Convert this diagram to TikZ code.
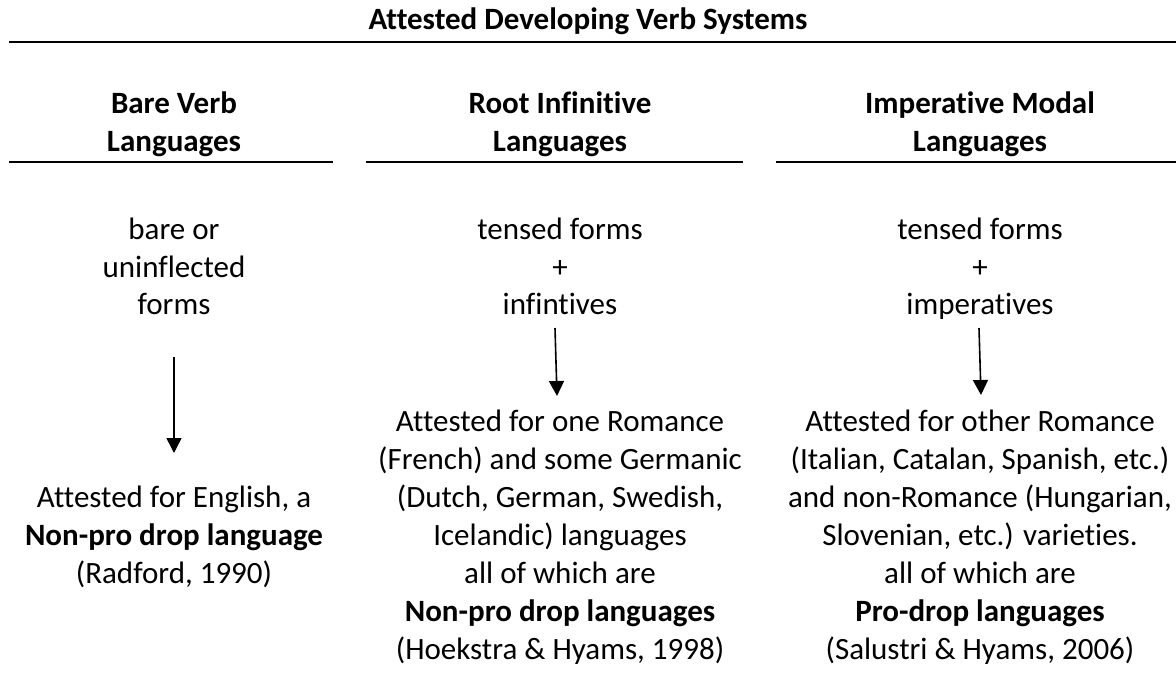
\documentclass[tikz,border=0pt]{standalone}
\usepackage{fontspec}
\setmainfont{Carlito}[Ligatures=CommonOff]
\usetikzlibrary{arrows.meta}
\begin{document}
\begin{tikzpicture}[x=1pt,y=-1pt,
  txt/.style={anchor=base,align=center,inner sep=0pt,font=\fontsize{31}{38}\selectfont},
  hdr/.style={txt,font=\fontsize{31}{38}\selectfont\bfseries},
  rule/.style={line width=2pt},
  arr/.style={line width=1.6pt,-{Triangle[width=15pt,length=15pt]}}]
\useasboundingbox (0,0) rectangle (1176,679);
% title (anchor = baseline of last line)
\node[hdr] (title) at (588,30) {Attested Developing Verb Systems};
\coordinate (tl) at (9,42);
\coordinate (tr) at (1176,42);
\draw[rule] (tl) -- (tr);
% column headers
\node[hdr] (h1) at (174,152) {Bare Verb\\Languages};
\node[hdr] (h2) at (560,152) {Root Infinitive\\Languages};
\node[hdr] (h3) at (980,152) {Imperative Modal\\Languages};
\coordinate (r1a) at (9,162);   \coordinate (r1b) at (333,162);
\coordinate (r2a) at (366,162); \coordinate (r2b) at (743,162);
\coordinate (r3a) at (776,162); \coordinate (r3b) at (1176,162);
\draw[rule] (r1a) -- (r1b);
\draw[rule] (r2a) -- (r2b);
\draw[rule] (r3a) -- (r3b);
% upper texts
\node[txt] (u1) at (174,315) {bare or\\uninflected\\forms};
\node[txt] (u2) at (560,315) {tensed forms\\+\\infintives};
\node[txt] (u3) at (980,315) {tensed forms\\+\\imperatives};
% arrows
\coordinate (a1s) at (174,357); \coordinate (a1e) at (174,453);
\coordinate (a2s) at (555,328); \coordinate (a2e) at (557,396);
\coordinate (a3s) at (979,328); \coordinate (a3e) at (981,395);
\draw[arr] (a1s) -- (a1e);
\draw[arr] (a2s) -- (a2e);
\draw[arr] (a3s) -- (a3e);
% lower texts
\node[txt] (l1) at (174,583) {Attested for English, a\\\textbf{Non-pro drop language}\\(Radford, 1990)};
\node[txt] (l2) at (560,659) {Attested for one Romance\\(French) and some Germanic\\(Dutch, German, Swedish,\\Icelandic) languages\\all of which are\\\textbf{Non-pro drop languages}\\(Hoekstra \& Hyams, 1998)};
\node[txt] (l3) at (980,659) {Attested for other Romance\\(Italian, Catalan, Spanish, etc.)\\and non-Romance (Hungarian,\\Slovenian, etc.) varieties.\\all of which are\\\textbf{Pro-drop languages}\\(Salustri \& Hyams, 2006)};
\end{tikzpicture}
\end{document}
